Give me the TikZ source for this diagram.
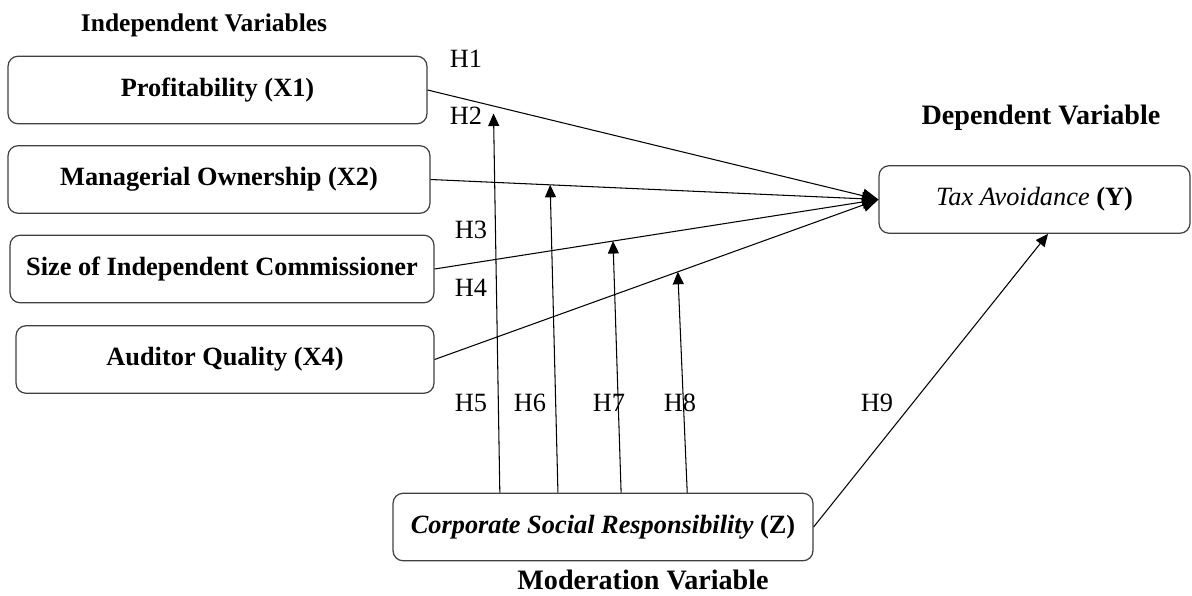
\documentclass[tikz,border=0pt]{standalone}
\usepackage{fontspec}
\setmainfont{Liberation Serif}
\usetikzlibrary{positioning, arrows.meta, calc}
\tikzset{
  varbox/.style  = {rectangle, rounded corners=2mm, draw=black!75, line width=0.7pt,
                    minimum width=8.4cm, minimum height=1.35cm, inner sep=2pt,
                    align=center, font=\fontsize{15}{18}\selectfont\bfseries},
  heading/.style = {inner sep=0pt, font=\fontsize{16}{19}\selectfont\bfseries},
  hyp/.style     = {inner sep=0pt, font=\fontsize{15}{18}\selectfont},
  ar/.style      = {-{Triangle[length=3.2mm,width=2.8mm]}, line width=0.6pt},
  mar/.style     = {-{Triangle[length=2.5mm,width=2.2mm]}, line width=0.6pt},
}

\begin{document}
\begin{tikzpicture}[x=0.02cm, y=-0.02cm]
  \useasboundingbox (0,0) rectangle (1192,595);

  % headings
  \node[heading, font=\fontsize{14.5}{17}\selectfont\bfseries] (indep) at (204,25) {Independent Variables};
  \node[heading] (dep) at (1041,118) {Dependent Variable};
  \node[heading] (moder) at (643,580) {Moderation Variable};

  % variables
  \node[varbox, minimum width=8.38cm] (x1) at (217.5,90) {Profitability (X1)};
  \node[varbox, minimum width=8.44cm] (x2) at (219,179.5) {Managerial Ownership (X2)};
  \node[varbox, minimum width=8.48cm] (x3) at (222,269) {Size of Independent Commissioner};
  \node[varbox, minimum width=8.36cm] (x4) at (225,359.5) {Auditor Quality (X4)};
  \node[varbox, minimum width=6.22cm] (ybox) at (1034.5,199.5)
       {{\mdseries\itshape Tax Avoidance} (Y)};
  \node[varbox, minimum width=8.4cm] (zbox) at (603,527)
       {{\itshape Corporate Social Responsibility} (Z)};

  % direct effects
  \foreach \v in {x1,x2,x3,x4}
    \draw[ar] (\v.east) -- (ybox.west);

  % points where the moderation meets each path
  \path (x1.east) -- (ybox.west) coordinate[pos=0.146] (m1);
  \path (x2.east) -- (ybox.west) coordinate[pos=0.267] (m2);
  \path (x3.east) -- (ybox.west) coordinate[pos=0.402] (m3);
  \path (x4.east) -- (ybox.west) coordinate[pos=0.548] (m4);

  \draw[mar, shorten >=1.5mm] ($(zbox.north west)!0.255!(zbox.north east)$) -- (m1);
  \draw[mar] ($(zbox.north west)!0.393!(zbox.north east)$) -- (m2);
  \draw[mar] ($(zbox.north west)!0.543!(zbox.north east)$) -- (m3);
  \draw[mar] ($(zbox.north west)!0.700!(zbox.north east)$) -- (m4);

  \draw[mar] (zbox.east) -- ([xshift=0.27cm]ybox.south);

  % hypothesis labels
  \foreach \n/\x/\y in {1/466/59, 2/466/116, 3/471/230, 4/471/288,
                        5/471/403, 6/530/403, 7/609/403, 8/680/403, 9/877/403}
    \node[hyp] (h\n) at (\x,\y) {H\n};

\end{tikzpicture}
\end{document}
